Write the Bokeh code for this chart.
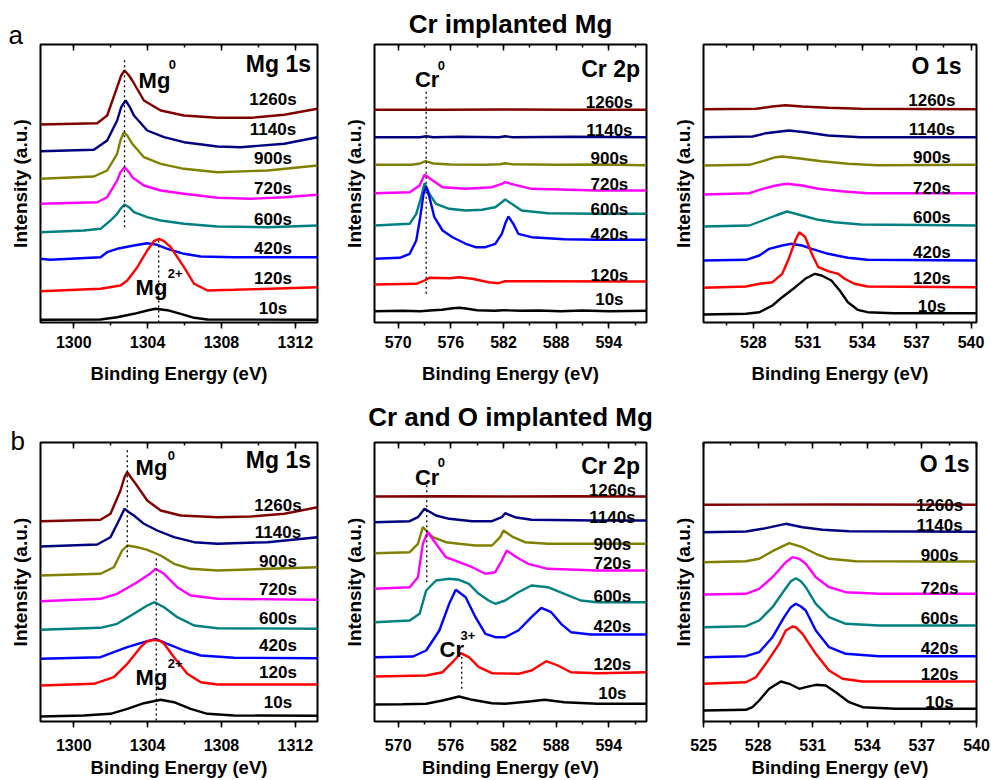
from bokeh.plotting import figure
from bokeh.models import (Range1d, LinearAxis, SingleIntervalTicker, FixedTicker, Label, Title,
                          CustomJSTickFormatter)
from bokeh.layouts import row, column
from bokeh.embed import file_html
from bokeh.resources import INLINE

FONT = "Liberation Sans"
TIMES = ["1260s", "1140s", "900s", "720s", "600s", "420s", "120s", "10s"]
COLORS = ["#800000", "#000080", "#808000", "#ff00ff", "#008080", "#0000ff", "#ff0000", "#000000"]

# ---------------- (a) Cr implanted Mg : Mg 1s ----------------
a1_1260_x = [1298.2, 1301.27, 1301.81, 1302.35, 1302.57, 1302.75, 1302.99, 1303.17, 1303.80, 1304.71, 1305.97, 1307.78, 1309.59, 1311.40, 1313.2]
a1_1260_y = [198.0, 199.3, 207.0, 235.3, 247.0, 252.0, 247.0, 242.0, 222.0, 212.0, 207.0, 204.7, 204.7, 207.7, 213.7]
a1_1140_x = [1298.2, 1301.09, 1301.81, 1302.35, 1302.57, 1302.81, 1303.04, 1303.26, 1303.98, 1304.89, 1305.97, 1307.78, 1309.05, 1311.40, 1313.2]
a1_1140_y = [171.3, 172.7, 182.0, 202.0, 215.3, 222.0, 215.3, 207.0, 192.0, 185.3, 180.3, 176.0, 175.3, 178.7, 185.3]
a1_900_x = [1298.2, 1301.09, 1301.81, 1302.35, 1302.53, 1302.71, 1302.90, 1303.17, 1303.80, 1304.71, 1305.97, 1307.78, 1310.50, 1313.2]
a1_900_y = [143.7, 146.0, 152.0, 168.7, 182.0, 190.3, 187.0, 178.7, 165.3, 158.7, 153.7, 150.3, 152.0, 157.0]
a1_720_x = [1298.2, 1301.27, 1301.81, 1302.35, 1302.53, 1302.75, 1302.99, 1303.17, 1303.80, 1304.71, 1305.97, 1307.78, 1309.59, 1311.40, 1313.2]
a1_720_y = [118.7, 120.3, 125.3, 142.0, 150.3, 155.3, 150.3, 145.3, 137.0, 132.0, 128.7, 124.7, 123.7, 125.3, 127.7]
a1_600_x = [1298.2, 1300.54, 1301.45, 1301.99, 1302.35, 1302.53, 1302.75, 1302.99, 1303.26, 1303.98, 1304.71, 1305.97, 1307.78, 1310.50, 1313.2]
a1_600_y = [90.3, 92.0, 93.7, 102.0, 108.7, 113.7, 118.0, 115.3, 110.3, 105.3, 102.0, 98.7, 96.0, 95.3, 97.0]
a1_420_x = [1298.2, 1298.73, 1301.45, 1301.81, 1302.35, 1303.26, 1303.98, 1304.52, 1305.07, 1305.97, 1306.88, 1308.69, 1313.2]
a1_420_y = [63.7, 62.7, 65.3, 70.3, 73.7, 77.0, 79.3, 77.7, 73.7, 68.7, 66.0, 65.3, 65.3]
a1_120_x = [1298.2, 1301.45, 1302.53, 1302.90, 1303.44, 1303.98, 1304.34, 1304.62, 1304.89, 1305.25, 1305.61, 1305.97, 1306.52, 1307.24, 1308.69, 1313.2]
a1_120_y = [31.3, 33.7, 37.0, 42.0, 55.3, 72.0, 81.3, 83.7, 81.3, 75.3, 65.3, 55.3, 38.7, 32.0, 32.7, 35.3]
a1_10_x = [1298.2, 1301.45, 1302.35, 1303.26, 1303.98, 1304.43, 1305.07, 1305.79, 1306.52, 1307.24, 1313.2]
a1_10_y = [2.7, 3.0, 5.3, 8.7, 12.0, 13.7, 12.3, 8.7, 4.7, 3.0, 2.7]

# ---------------- (a) Cr 2p ----------------
a2_1260_x = [567.3, 575.0, 582.0, 590.0, 598.3]
a2_1260_y = [212.7, 212.7, 213.0, 212.7, 212.7]
a2_1140_x = [567.3, 572.5, 573.2, 574.0, 577.0, 581.5, 582.2, 583.0, 590.0, 598.3]
a2_1140_y = [185.3, 185.3, 186.3, 185.3, 185.7, 185.3, 186.3, 185.3, 185.7, 185.3]
a2_900_x = [567.3, 571.5, 572.5, 573.1, 574.0, 576.0, 580.0, 581.6, 582.2, 583.0, 588.0, 593.0, 598.3]
a2_900_y = [157.7, 157.7, 159.0, 161.3, 159.0, 158.0, 157.7, 158.3, 159.3, 158.3, 157.7, 158.0, 157.3]
a2_720_x = [567.3, 571.31, 572.44, 573.0, 573.94, 575.06, 577.69, 580.69, 581.81, 582.19, 583.31, 585.19, 592.69, 598.3]
a2_720_y = [129.3, 130.3, 137.0, 147.7, 142.0, 135.3, 133.7, 135.3, 138.7, 140.3, 137.7, 133.7, 132.0, 132.0]
a2_600_x = [567.3, 571.31, 572.06, 572.62, 573.0, 573.56, 574.31, 575.81, 577.69, 579.56, 581.06, 581.81, 582.19, 582.94, 584.06, 587.06, 592.69, 598.3]
a2_600_y = [97.0, 98.7, 108.7, 125.3, 139.3, 128.7, 118.7, 113.7, 112.0, 112.7, 115.3, 120.3, 123.0, 118.7, 112.0, 109.3, 108.7, 108.7]
a2_420_x = [567.3, 570.19, 571.31, 572.06, 572.51, 572.89, 573.19, 573.56, 574.12, 575.06, 576.19, 577.69, 578.81, 579.94, 581.06, 581.81, 582.26, 582.56, 583.12, 583.69, 585.19, 588.94, 592.69, 598.3]
a2_420_y = [63.7, 64.7, 68.7, 82.0, 105.3, 128.7, 136.0, 125.3, 105.3, 92.0, 85.3, 78.7, 75.3, 75.3, 78.7, 88.7, 100.3, 106.0, 98.7, 88.7, 85.3, 83.3, 82.7, 82.7]
a2_120_x = [567.3, 572.06, 573.0, 573.56, 575.81, 576.94, 578.44, 580.31, 581.44, 582.19, 585.19, 598.3]
a2_120_y = [38.0, 38.7, 42.0, 44.7, 44.3, 45.3, 43.7, 40.3, 39.3, 41.3, 41.3, 41.0]
a2_10_x = [567.3, 570.5, 572.5, 574.0, 575.0, 576.2, 577.0, 577.7, 579.0, 581.0, 582.0, 584.0, 586.0, 588.5, 591.0, 594.0, 598.3]
a2_10_y = [11.3, 11.7, 11.3, 12.3, 12.7, 14.3, 14.7, 14.0, 12.3, 11.7, 12.3, 11.7, 12.0, 11.3, 12.0, 11.3, 11.7]

# ---------------- (a) O 1s ----------------
a3_1260_x = [525.25, 528.14, 529.05, 529.77, 530.68, 532.12, 533.93, 540.3]
a3_1260_y = [213.3, 213.7, 216.0, 217.3, 216.0, 214.7, 213.7, 213.3]
a3_1140_x = [525.25, 527.96, 528.69, 529.95, 530.86, 532.12, 533.93, 540.3]
a3_1140_y = [185.3, 186.0, 189.3, 192.0, 190.3, 187.0, 185.3, 185.3]
a3_900_x = [525.25, 527.78, 528.51, 529.23, 529.59, 530.68, 531.76, 533.21, 534.84, 540.3]
a3_900_y = [157.0, 157.7, 161.3, 165.3, 166.0, 163.7, 161.3, 158.7, 157.3, 157.7]
a3_720_x = [525.25, 527.78, 528.51, 529.23, 529.86, 530.68, 531.58, 532.85, 534.29, 540.3]
a3_720_y = [128.0, 129.3, 133.7, 137.0, 138.7, 137.0, 133.7, 131.3, 129.3, 129.3]
a3_600_x = [525.25, 527.78, 528.51, 529.23, 529.86, 530.68, 531.58, 532.48, 533.93, 540.3]
a3_600_y = [96.0, 97.0, 102.0, 107.0, 111.0, 107.0, 102.7, 100.3, 98.0, 97.0]
a3_420_x = [525.25, 527.60, 528.33, 528.87, 529.59, 530.04, 530.68, 531.22, 532.12, 533.21, 534.29, 540.3]
a3_420_y = [62.0, 62.7, 67.0, 73.7, 77.0, 78.7, 77.0, 73.7, 68.7, 64.7, 62.7, 62.0]
a3_120_x = [525.25, 527.60, 528.33, 529.05, 529.59, 529.95, 530.31, 530.53, 530.86, 531.22, 531.58, 532.12, 532.67, 533.03, 533.57, 534.29, 540.3]
a3_120_y = [34.7, 36.0, 38.7, 40.3, 48.7, 63.7, 82.0, 90.3, 85.3, 68.7, 55.3, 51.3, 48.7, 43.7, 38.7, 36.0, 35.3]
a3_10_x = [525.25, 527.60, 528.33, 529.05, 529.59, 530.31, 530.86, 531.31, 531.40, 531.76, 532.30, 532.76, 533.21, 533.75, 534.29, 535.74, 540.3]
a3_10_y = [8.0, 8.7, 10.3, 17.0, 25.3, 35.3, 43.7, 48.0, 48.7, 47.0, 42.0, 32.0, 20.3, 12.7, 10.3, 9.3, 9.3]

# ---------------- (b) Cr and O implanted Mg : Mg 1s ----------------
b1_1260_x = [1298.2, 1301.45, 1301.99, 1302.53, 1302.75, 1302.90, 1303.11, 1303.35, 1303.98, 1304.71, 1305.79, 1307.78, 1309.59, 1311.40, 1313.2]
b1_1260_y = [200.3, 201.7, 207.7, 231.0, 244.3, 249.3, 243.7, 237.7, 221.0, 211.0, 206.0, 204.3, 205.0, 207.7, 214.3]
b1_1140_x = [1298.2, 1301.27, 1301.99, 1302.53, 1302.75, 1302.99, 1303.26, 1303.80, 1304.52, 1305.43, 1306.52, 1307.78, 1310.50, 1313.2]
b1_1140_y = [175.0, 177.0, 184.3, 204.3, 212.7, 209.3, 206.0, 197.7, 191.0, 184.3, 179.3, 177.7, 179.3, 184.3]
b1_900_x = [1298.2, 1301.45, 1302.17, 1302.62, 1302.90, 1303.44, 1303.98, 1304.71, 1305.43, 1306.33, 1307.78, 1310.50, 1313.2]
b1_900_y = [146.0, 147.7, 154.3, 171.0, 176.0, 174.3, 171.7, 166.0, 157.7, 152.7, 151.0, 152.7, 154.3]
b1_720_x = [1298.2, 1301.45, 1302.35, 1303.44, 1304.16, 1304.43, 1304.89, 1305.61, 1306.33, 1307.78, 1313.2]
b1_720_y = [120.3, 122.7, 127.7, 139.3, 148.3, 152.7, 147.7, 134.3, 126.0, 122.7, 121.7]
b1_600_x = [1298.2, 1301.45, 1302.35, 1303.26, 1303.98, 1304.38, 1304.89, 1305.61, 1306.52, 1307.78, 1313.2]
b1_600_y = [91.7, 93.7, 97.7, 107.7, 116.0, 119.3, 114.3, 104.3, 96.0, 93.3, 92.7]
b1_420_x = [1298.2, 1301.45, 1302.17, 1302.90, 1303.80, 1304.43, 1305.07, 1305.97, 1306.88, 1308.69, 1313.2]
b1_420_y = [62.7, 64.3, 69.3, 74.3, 79.3, 82.7, 77.7, 71.0, 66.0, 63.7, 63.3]
b1_120_x = [1298.2, 1301.09, 1302.17, 1302.90, 1303.62, 1303.98, 1304.43, 1304.71, 1304.89, 1305.43, 1306.15, 1306.88, 1307.78, 1313.2]
b1_120_y = [36.0, 37.7, 44.3, 57.7, 74.3, 80.3, 81.7, 80.3, 77.7, 64.3, 47.7, 39.3, 37.0, 37.0]
b1_10_x = [1298.2, 1300.54, 1301.99, 1302.90, 1303.80, 1304.71, 1305.43, 1306.33, 1307.24, 1308.69, 1313.2]
b1_10_y = [5.0, 6.0, 7.7, 12.7, 18.3, 21.7, 19.3, 12.7, 7.7, 6.0, 5.7]

# ---------------- (b) Cr 2p ----------------
b2_1260_x = [567.3, 575.0, 582.0, 590.0, 598.3]
b2_1260_y = [225.0, 225.3, 225.0, 225.3, 225.0]
b2_1140_x = [567.3, 571.31, 572.25, 573.0, 574.31, 575.81, 578.44, 580.69, 581.81, 582.19, 583.31, 585.19, 592.69, 598.3]
b2_1140_y = [199.3, 200.3, 204.3, 212.7, 206.0, 202.7, 200.3, 200.3, 204.3, 208.3, 204.3, 201.7, 201.0, 201.0]
b2_900_x = [567.3, 571.31, 572.25, 572.81, 573.94, 575.44, 576.94, 578.81, 580.69, 581.62, 582.00, 583.12, 584.44, 587.06, 598.3]
b2_900_y = [168.3, 169.3, 177.7, 194.3, 184.3, 179.3, 177.7, 176.0, 176.0, 184.3, 191.0, 184.3, 179.3, 177.7, 177.7]
b2_720_x = [567.3, 571.31, 572.25, 572.81, 573.37, 574.31, 575.44, 576.94, 578.44, 579.94, 581.06, 581.81, 582.37, 583.50, 584.81, 587.06, 592.69, 598.3]
b2_720_y = [132.7, 134.3, 144.3, 177.7, 189.3, 177.7, 164.3, 159.3, 154.3, 147.7, 149.3, 161.0, 171.0, 164.3, 157.7, 152.7, 151.0, 151.0]
b2_600_x = [567.3, 571.31, 572.44, 573.19, 574.31, 575.81, 576.94, 578.06, 579.19, 580.31, 581.06, 582.19, 583.69, 585.19, 587.06, 588.94, 590.81, 592.69, 598.3]
b2_600_y = [99.3, 101.0, 107.7, 131.0, 141.0, 142.7, 141.7, 137.7, 127.7, 121.0, 117.7, 121.0, 129.3, 136.0, 134.3, 127.7, 121.0, 119.3, 119.3]
b2_420_x = [567.3, 571.69, 573.19, 574.69, 575.81, 576.56, 577.69, 578.81, 579.94, 581.06, 582.19, 583.69, 585.19, 586.31, 587.44, 588.56, 589.69, 591.94, 598.3]
b2_420_y = [64.3, 65.0, 71.0, 91.0, 117.7, 131.7, 124.3, 104.3, 87.7, 84.3, 84.3, 91.0, 104.3, 113.7, 109.3, 97.7, 89.3, 87.0, 87.0]
b2_120_x = [567.3, 573.19, 575.06, 576.19, 577.12, 578.06, 579.19, 580.69, 583.69, 585.19, 586.87, 588.19, 589.69, 592.69, 598.3]
b2_120_y = [45.0, 46.0, 49.3, 59.3, 68.3, 64.3, 54.3, 48.3, 47.7, 51.0, 60.3, 56.0, 49.3, 48.3, 49.3]
b2_10_x = [567.3, 570.5, 573.19, 575.06, 576.94, 578.44, 580.69, 582.19, 585.19, 586.69, 588.94, 592.69, 598.3]
b2_10_y = [17.0, 17.3, 17.7, 21.0, 25.0, 21.7, 18.3, 17.7, 20.3, 21.7, 19.3, 17.7, 17.7]

# ---------------- (b) O 1s ----------------
b3_1260_x = [525.0, 532.0, 540.0]
b3_1260_y = [216.7, 217.0, 216.7]
b3_1140_x = [525.0, 527.33, 528.24, 529.52, 530.44, 531.54, 533.0, 540.0]
b3_1140_y = [189.3, 190.0, 192.7, 197.7, 194.3, 191.7, 190.3, 189.7]
b3_900_x = [525.0, 527.33, 528.06, 528.79, 529.71, 530.44, 531.17, 531.90, 533.37, 540.0]
b3_900_y = [159.3, 160.3, 162.7, 170.3, 178.3, 174.3, 167.7, 162.7, 160.3, 160.0]
b3_720_x = [525.0, 527.33, 528.06, 528.79, 529.52, 529.89, 530.26, 530.62, 531.17, 531.90, 532.82, 534.65, 540.0]
b3_720_y = [127.0, 127.7, 132.7, 144.3, 159.3, 164.3, 162.7, 157.7, 144.3, 134.3, 129.3, 127.7, 127.7]
b3_600_x = [525.0, 527.33, 528.06, 528.79, 529.43, 529.80, 530.07, 530.35, 530.62, 531.17, 531.90, 532.82, 534.65, 540.0]
b3_600_y = [94.3, 95.3, 101.0, 114.3, 131.0, 140.3, 143.3, 140.3, 134.3, 117.7, 104.3, 97.7, 96.0, 96.0]
b3_420_x = [525.0, 527.33, 528.06, 528.79, 529.43, 529.80, 530.07, 530.35, 530.62, 531.17, 531.90, 532.82, 534.65, 540.0]
b3_420_y = [64.3, 65.3, 69.3, 84.3, 104.3, 114.3, 117.7, 115.0, 111.0, 91.0, 74.3, 67.7, 65.3, 65.3]
b3_120_x = [525.0, 527.33, 527.88, 528.42, 529.16, 529.52, 529.89, 530.07, 530.44, 531.17, 531.90, 532.64, 533.74, 540.0]
b3_120_y = [37.7, 39.3, 44.3, 57.7, 77.7, 91.0, 95.0, 94.3, 87.7, 67.7, 51.0, 42.7, 40.0, 40.0]
b3_10_x = [525.0, 527.33, 527.69, 528.06, 528.61, 529.25, 529.71, 530.26, 530.62, 531.17, 531.72, 532.27, 533.0, 533.74, 535.57, 540.0]
b3_10_y = [11.0, 11.7, 14.3, 21.0, 32.7, 40.0, 37.7, 32.7, 34.3, 36.7, 36.0, 29.3, 19.3, 14.3, 12.7, 12.7]

# peak marker lines: (energy, intensity from, intensity to)
a1_marks = [(1302.75, 95.3, 263.7), (1304.6, 0.0, 83.7)]
a2_marks = [(573.19, 28.7, 233.7)]
b1_marks = [(1302.9, 164.3, 274.3), (1304.47, 1.0, 164.3)]
b2_marks = [(573.26, 139.3, 237.7), (577.24, 32.7, 67.7)]

X_LABEL = "Binding Energy (eV)"
Y_LABEL = "Intensity (a.u.)"


def txt(p, x, y, s, size, align="left", style="bold"):
    # raise the label so that the glyph baseline sits at y (data units == frame pixels)
    p.add_layout(Label(x=x, y=y + 0.28 * size, text=s, text_font=FONT,
                       text_font_size=f"{size}px", text_font_style=style, text_align=align,
                       text_baseline="alphabetic", text_color="black"))


def panel(width, height, bl, br, bt, bb, xr, ymax, interval, std, xstd, curves):
    p = figure(width=width, height=height, x_range=Range1d(*xr), y_range=Range1d(0, ymax),
               output_backend="svg", toolbar_location=None,
               min_border_left=bl, min_border_right=br, min_border_top=bt, min_border_bottom=bb)
    p.grid.visible = False
    p.background_fill_color = "white"
    p.border_fill_color = "white"
    p.outline_line_color = "black"
    p.outline_line_width = 2
    xa = p.xaxis[0]
    xa.ticker = SingleIntervalTicker(interval=interval, num_minor_ticks=2)
    xa.axis_line_color = None
    xa.major_tick_out = 6
    xa.major_tick_in = 0
    xa.minor_tick_out = 3
    xa.minor_tick_in = 0
    xa.major_tick_line_width = 1.5
    xa.minor_tick_line_width = 1.5
    xa.major_label_standoff = std
    xa.major_label_text_font = FONT
    xa.major_label_text_font_style = "bold"
    xa.major_label_text_font_size = "16px"
    xa.major_label_text_color = "black"
    xa.axis_label = X_LABEL
    xa.axis_label_standoff = xstd
    xa.axis_label_text_font = FONT
    xa.axis_label_text_font_style = "bold"
    xa.axis_label_text_font_size = "18.5px"
    xa.axis_label_text_color = "black"
    top = LinearAxis(ticker=SingleIntervalTicker(interval=interval, num_minor_ticks=2),
                     formatter=CustomJSTickFormatter(code="return ''"),
                     axis_line_color=None, major_tick_in=6, major_tick_out=0,
                     minor_tick_in=3, minor_tick_out=0, major_tick_line_width=1.5,
                     minor_tick_line_width=1.5, major_label_standoff=0)
    p.add_layout(top, "above")
    ya = p.yaxis[0]
    ya.ticker = FixedTicker(ticks=[])
    ya.axis_line_color = None
    ya.axis_label = Y_LABEL
    ya.axis_label_text_font = FONT
    ya.axis_label_text_font_style = "bold"
    ya.axis_label_text_font_size = "19px"
    ya.axis_label_text_color = "black"
    ya.axis_label_standoff = 10
    for (xs, ys), c in zip(curves, COLORS):
        p.line(xs, ys, line_color=c, line_width=2.4)
    return p


def curve_labels(p, x, ys):
    for t, y in zip(TIMES, ys):
        txt(p, x, y, t, 17, align="center")


def marks(p, ms):
    for e, i0, i1 in ms:
        p.line([e, e], [i0, i1], line_color="black", line_width=1.3, line_dash="2 3")


def species(p, x, y, s, xs, ys, sup):
    txt(p, x, y, s, 22)
    txt(p, xs, ys, sup, 13)


def heading(p, s, standoff, size="26px", align="center", offset=0, style="bold"):
    p.add_layout(Title(text=s, align=align, offset=offset, text_font=FONT, text_font_size=size,
                       text_font_style=style, text_color="black", standoff=standoff), "above")


# ---------- row a ----------
pa1 = panel(340, 388, 40, 23, 44, 66, (1298.2, 1313.2), 278, 4, 7, 12,
            [(a1_1260_x, a1_1260_y), (a1_1140_x, a1_1140_y), (a1_900_x, a1_900_y), (a1_720_x, a1_720_y),
             (a1_600_x, a1_600_y), (a1_420_x, a1_420_y), (a1_120_x, a1_120_y), (a1_10_x, a1_10_y)])
marks(pa1, a1_marks)
curve_labels(pa1, 1310.79, [218, 188, 159, 129, 98, 69, 39, 9])
txt(pa1, 1312.85, 252, "Mg 1s", 23, align="right")
species(pa1, 1303.51, 236, "Mg", 1305.14, 254, "0")
species(pa1, 1303.35, 29, "Mg", 1305.09, 45, "2+")
heading(pa1, "a", -10, size="26px", align="left", offset=-32, style="normal")

pa2 = panel(329, 388, 31, 23, 44, 66, (567.3, 598.3), 278, 6, 7, 12,
            [(a2_1260_x, a2_1260_y), (a2_1140_x, a2_1140_y), (a2_900_x, a2_900_y), (a2_720_x, a2_720_y),
             (a2_600_x, a2_600_y), (a2_420_x, a2_420_y), (a2_120_x, a2_120_y), (a2_10_x, a2_10_y)])
marks(pa2, a2_marks)
curve_labels(pa2, 594.07, [215, 187, 159, 133, 108, 83, 42, 18])
txt(pa2, 597.56, 247, "Cr 2p", 23, align="right")
species(pa2, 571.91, 237, "Cr", 574.5, 253.7, "0")
heading(pa2, "Cr implanted Mg", 12)

pa3 = panel(322, 388, 31, 15, 44, 66, (525.25, 540.3), 278, 3, 7, 12,
            [(a3_1260_x, a3_1260_y), (a3_1140_x, a3_1140_y), (a3_900_x, a3_900_y), (a3_720_x, a3_720_y),
             (a3_600_x, a3_600_y), (a3_420_x, a3_420_y), (a3_120_x, a3_120_y), (a3_10_x, a3_10_y)])
curve_labels(pa3, 537.84, [217, 188, 160, 129, 100, 65, 39, 11])
txt(pa3, 539.47, 250, "O 1s", 23, align="right")

# ---------- row b ----------
pb1 = panel(340, 392, 40, 23, 54, 59, (1298.2, 1313.2), 279, 4, 11, 3,
            [(b1_1260_x, b1_1260_y), (b1_1140_x, b1_1140_y), (b1_900_x, b1_900_y), (b1_720_x, b1_720_y),
             (b1_600_x, b1_600_y), (b1_420_x, b1_420_y), (b1_120_x, b1_120_y), (b1_10_x, b1_10_y)])
marks(pb1, b1_marks)
curve_labels(pb1, 1311.06, [211, 184, 155, 127, 98, 71, 44, 14])
txt(pb1, 1312.85, 255, "Mg 1s", 23, align="right")
species(pb1, 1303.35, 248, "Mg", 1305.09, 262.7, "0")
species(pb1, 1303.35, 37.7, "Mg", 1305.09, 54.3, "2+")
heading(pb1, "b", -27, size="26px", align="left", offset=-30, style="normal")

pb2 = panel(329, 392, 31, 23, 54, 59, (567.3, 598.3), 279, 6, 11, 3,
            [(b2_1260_x, b2_1260_y), (b2_1140_x, b2_1140_y), (b2_900_x, b2_900_y), (b2_720_x, b2_720_y),
             (b2_600_x, b2_600_y), (b2_420_x, b2_420_y), (b2_120_x, b2_120_y), (b2_10_x, b2_10_y)])
marks(pb2, b2_marks)
curve_labels(pb2, 594.41, [226, 199, 172, 153, 120, 90, 52, 23])
txt(pb2, 597.56, 249, "Cr 2p", 23, align="right")
species(pb2, 571.91, 238, "Cr", 574.5, 255, "0")
species(pb2, 574.72, 66, "Cr", 577.09, 82.7, "3+")
heading(pb2, "Cr and O implanted Mg", 22)

pb3 = panel(322, 392, 31, 15, 54, 59, (525.0, 540.0), 279, 3, 11, 3,
            [(b3_1260_x, b3_1260_y), (b3_1140_x, b3_1140_y), (b3_900_x, b3_900_y), (b3_720_x, b3_720_y),
             (b3_600_x, b3_600_y), (b3_420_x, b3_420_y), (b3_120_x, b3_120_y), (b3_10_x, b3_10_y)])
curve_labels(pb3, 537.97, [211, 191, 161, 128, 98, 68, 42, 14])
txt(pb3, 539.62, 251, "O 1s", 23, align="right")

layout = column(row(pa1, pa2, pa3, spacing=0), row(pb1, pb2, pb3, spacing=0), spacing=0)
open("out.html", "w").write(file_html(layout, INLINE))
